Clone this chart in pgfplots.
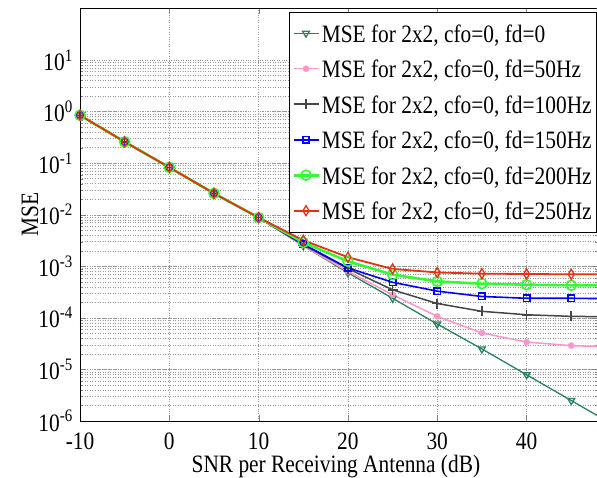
\documentclass[border=0pt]{standalone}
\usepackage{fontspec}
\setmainfont{Liberation Serif}[FakeStretch=0.855]
\usepackage{pgfplots}
\pgfplotsset{compat=1.18}
\newcommand\bigf{\fontsize{25}{28}\selectfont}
\definecolor{cteal}{RGB}{40,130,90}
\definecolor{cpink}{RGB}{255,150,200}
\definecolor{cgray}{RGB}{70,70,70}
\definecolor{cblue}{RGB}{0,0,255}
\definecolor{cgreen}{RGB}{50,255,50}
\definecolor{cred}{RGB}{230,50,20}
\begin{document}
\begin{tikzpicture}
\begin{axis}[
  scale only axis,
  width=518pt, height=412.5pt,
  xmin=-10, xmax=48,
  ymode=log, ymin=1e-6, ymax=1e2,
  xtick={-10,0,...,40},
  ytick={1e-6,1e-5,1e-4,1e-3,1e-2,1e-1,1,10},
  yticklabels={10\textsuperscript{-6},10\textsuperscript{-5},10\textsuperscript{-4},10\textsuperscript{-3},10\textsuperscript{-2},10\textsuperscript{-1},10\textsuperscript{0},10\textsuperscript{1}},
  /pgf/number format/assume math mode=true,
  tick label style={font=\bigf},
  xticklabel style={anchor=base, yshift=-28pt},
  yticklabel style={anchor=base east, inner xsep=7pt, yshift=-10pt},
  label style={font=\bigf},
  xlabel={SNR per Receiving Antenna (dB)},
  ylabel={MSE},
  xlabel style={at={(axis description cs:0.494,0)}, anchor=base, yshift=-51.5pt},
  ylabel style={at={(axis description cs:-0.0965,0.5)}, anchor=center},
  tick align=inside,
  major tick length=6pt, minor tick length=3pt,
  xmajorgrids, ymajorgrids, yminorgrids,
  grid style={dotted, gray!80, line width=0.5pt},
  minor grid style={dotted, gray!80, line width=0.5pt},
  axis line style={line width=0.8pt},
  legend cell align=left,
  legend image code/.code={\draw[mark repeat=2,mark phase=2] plot coordinates {(0pt,0pt) (12.5pt,0pt) (25pt,0pt)};},
  legend style={at={(rel axis cs:0.4035,0.9915)}, anchor=north west, font=\bigf,
    inner xsep=3pt, inner ysep=9pt, row sep=11.5pt,
    nodes={inner xsep=2pt, inner ysep=0pt, text height=21pt, text depth=3pt}},
]
\addplot[cteal, line width=1.3pt, mark=triangle, mark size=4pt, mark options={rotate=180, fill=white}] coordinates {
  (-10,0.85) (-5,0.26) (0,0.083) (5,0.026) (10,0.0088) (15,0.0025) (20,7.5e-4)
  (25,2.4e-4) (30,7.6e-5) (35,2.5e-5) (40,7.9e-6) (45,2.5e-6) (50,7.9e-7)
};
\addlegendentry{MSE for 2x2, cfo=0, fd=0}
\addplot[cpink, line width=1.5pt, mark=*, mark size=2.5pt] coordinates {
  (-10,0.85) (-5,0.26) (0,0.083) (5,0.026) (10,0.0088) (15,0.0025) (20,8e-4)
  (25,2.8e-4) (30,1.07e-4) (35,5.1e-5) (40,3.4e-5) (45,2.9e-5) (50,2.7e-5)
};
\addlegendentry{MSE for 2x2, cfo=0, fd=50Hz}
\addplot[cgray, line width=1.5pt, mark=+, mark size=5pt] coordinates {
  (-10,0.85) (-5,0.26) (0,0.083) (5,0.026) (10,0.0088) (15,0.0026) (20,9e-4)
  (25,3.5e-4) (30,1.9e-4) (35,1.34e-4) (40,1.15e-4) (45,1.07e-4) (50,1.05e-4)
};
\addlegendentry{MSE for 2x2, cfo=0, fd=100Hz}
\addplot[cblue, line width=1.6pt, mark=square, mark size=3.2pt, mark options={fill=white}] coordinates {
  (-10,0.85) (-5,0.26) (0,0.083) (5,0.026) (10,0.0088) (15,0.0027) (20,9.3e-4)
  (25,4.9e-4) (30,3.3e-4) (35,2.6e-4) (40,2.4e-4) (45,2.4e-4) (50,2.35e-4)
};
\addlegendentry{MSE for 2x2, cfo=0, fd=150Hz}
\addplot[cgreen, line width=2.6pt, mark=o, mark size=5pt, mark options={line width=1.6pt}] coordinates {
  (-10,0.85) (-5,0.26) (0,0.083) (5,0.026) (10,0.0088) (15,0.0029) (20,1.25e-3)
  (25,6.9e-4) (30,5.1e-4) (35,4.6e-4) (40,4.4e-4) (45,4.3e-4) (50,4.3e-4)
};
\addlegendentry{MSE for 2x2, cfo=0, fd=200Hz}
\addplot[cred, line width=1.8pt, mark=diamond, mark size=5pt, mark options={line width=1.3pt, fill=white, xscale=0.8}] coordinates {
  (-10,0.85) (-5,0.26) (0,0.083) (5,0.026) (10,0.0088) (15,0.0032) (20,1.5e-3)
  (25,8.9e-4) (30,7.6e-4) (35,7.2e-4) (40,7.1e-4) (45,7e-4) (50,7e-4)
};
\addlegendentry{MSE for 2x2, cfo=0, fd=250Hz}
\end{axis}
\pgfresetboundingbox
\useasboundingbox (-80pt,-56pt) rectangle (517pt,421pt);
\end{tikzpicture}
\end{document}
